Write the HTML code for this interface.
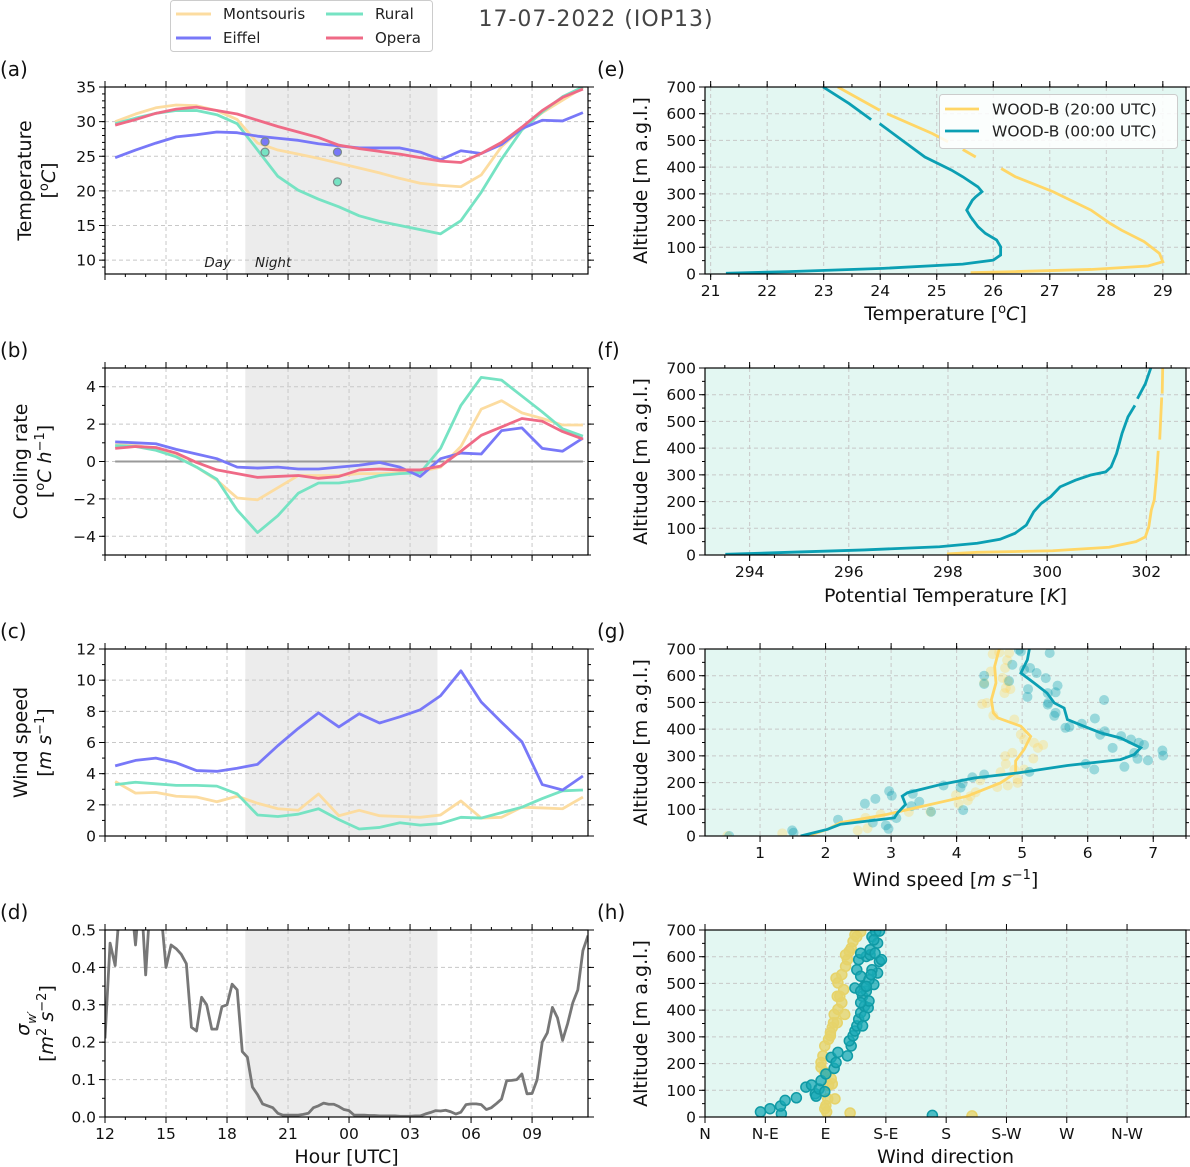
<!DOCTYPE html>
<html><head><meta charset="utf-8">
<style>
html,body{margin:0;padding:0;background:#fff;}
svg{display:block;font-family:"DejaVu Sans","Liberation Sans",sans-serif;}
</style></head>
<body>
<svg id="fig" width="1190" height="1167" viewBox="0 0 1190 1167" xmlns="http://www.w3.org/2000/svg">
  <text x="596" y="26" font-size="22" fill="#444" text-anchor="middle" letter-spacing="1">17-07-2022 (IOP13)</text>
  <g>
    <rect x="170.5" y="0.5" width="262" height="51" rx="3" fill="#fff" stroke="#ccc"/>
    <line x1="176" y1="14" x2="211" y2="14" stroke="#fcdca0" stroke-width="3"/>
    <text x="223" y="19" font-size="15" fill="#222">Montsouris</text>
    <line x1="176" y1="38" x2="211" y2="38" stroke="#7878f8" stroke-width="3"/>
    <text x="223" y="43" font-size="15" fill="#222">Eiffel</text>
    <line x1="326" y1="14" x2="363" y2="14" stroke="#76e3c3" stroke-width="3"/>
    <text x="375" y="19" font-size="15" fill="#222">Rural</text>
    <line x1="326" y1="38" x2="363" y2="38" stroke="#ef6a86" stroke-width="3"/>
    <text x="375" y="43" font-size="15" fill="#222">Opera</text>
  </g>
</svg>
<script>
// ---------- data: left panels (hourly, starting 12:30 UTC) ----------
const hourOffsets = [0.5,1.5,2.5,3.5,4.5,5.5,6.5,7.5,8.5,9.5,10.5,11.5,12.5,13.5,14.5,15.5,16.5,17.5,18.5,19.5,20.5,21.5,22.5,23.5];
const tempMontsouris = [30.0,31.1,32.0,32.4,32.3,31.6,30.3,26.9,25.9,25.3,24.7,24.0,23.3,22.6,21.8,21.1,20.8,20.6,22.3,26.4,29.0,31.3,33.1,34.9];
const tempRural = [29.7,30.5,31.2,31.6,31.6,31.0,29.7,25.9,22.1,20.1,18.8,17.7,16.4,15.6,15.0,14.4,13.8,15.7,19.8,24.6,28.8,31.4,33.6,35.0];
const tempEiffel = [24.8,25.9,26.9,27.8,28.1,28.5,28.4,27.9,27.6,27.3,26.8,26.5,26.2,26.2,26.2,25.6,24.5,25.8,25.4,26.7,29.0,30.2,30.1,31.3];
const tempOpera = [29.5,30.3,31.2,31.8,32.1,31.6,31.1,30.2,29.3,28.5,27.7,26.6,26.1,25.7,25.3,24.8,24.3,24.1,25.4,27.0,29.2,31.6,33.5,34.7];
const markerHours = [7.87,7.87,11.43,11.43];
const markerTemps = [27.1,25.6,25.6,21.3];
const markerStations = ["eiffel","rural","eiffel","rural"];
const coolMontsouris = [0.9,0.85,0.7,0.3,-0.3,-1.0,-1.95,-2.05,-1.4,-0.75,-0.75,-0.75,-0.65,-0.65,-0.6,-0.55,-0.3,0.8,2.8,3.25,2.6,2.3,1.95,1.95];
const coolRural = [0.85,0.8,0.6,0.25,-0.3,-0.95,-2.6,-3.8,-2.9,-1.7,-1.15,-1.15,-1.0,-0.75,-0.65,-0.6,0.7,3.0,4.5,4.35,3.5,2.65,1.75,1.35];
const coolEiffel = [1.05,1.0,0.95,0.65,0.4,0.15,-0.3,-0.35,-0.3,-0.4,-0.4,-0.3,-0.2,-0.05,-0.3,-0.8,0.15,0.45,0.4,1.65,1.8,0.7,0.55,1.25];
const coolOpera = [0.7,0.8,0.75,0.45,-0.05,-0.45,-0.65,-0.85,-0.8,-0.75,-0.9,-0.8,-0.45,-0.4,-0.45,-0.45,-0.25,0.55,1.4,1.85,2.3,2.15,1.6,1.2];
const windMontsouris = [3.5,2.75,2.8,2.55,2.5,2.2,2.55,2.1,1.75,1.65,2.7,1.3,1.65,1.3,1.25,1.2,1.35,2.25,1.15,1.2,1.85,1.8,1.75,2.5];
const windRural = [3.3,3.45,3.35,3.25,3.25,3.2,2.7,1.35,1.25,1.4,1.75,1.05,0.45,0.55,0.85,0.7,0.8,1.2,1.15,1.5,1.85,2.4,2.9,2.95];
const windEiffel = [4.5,4.85,5.0,4.7,4.2,4.15,4.35,4.6,5.8,6.9,7.9,7.0,7.85,7.25,7.65,8.1,9.0,10.6,8.6,7.3,6.05,3.3,2.95,3.85];
// sigma_w, 15-min steps from 12:00 UTC
const sigmaStep = 0.25;
const sigmaW = [0.21,0.465,0.405,0.58,0.6,0.6,0.46,0.62,0.38,0.6,0.6,0.55,
0.40,0.46,0.45,0.435,0.41,0.24,0.23,0.32,0.30,0.235,0.235,0.295,0.30,0.355,0.34,0.175,0.16,0.08,0.06,0.035,0.03,0.025,0.01,0.005,0.005,0.005,0.005,0.007,0.01,0.025,0.03,0.037,0.034,0.034,0.028,0.02,0.017,0.005,0.005,0.005,0.004,0.004,0.003,0.003,0.003,0.003,0.002,0.002,0.002,0.003,0.003,0.008,0.012,0.017,0.016,0.018,0.014,0.008,0.013,0.033,0.035,0.035,0.033,0.02,0.025,0.036,0.048,0.097,0.098,0.1,0.115,0.062,0.063,0.1,0.2,0.225,0.293,0.265,0.205,0.25,0.305,0.34,0.445,0.485];
const nightStart = 6.9, nightEnd = 16.35;
const hourTickLabels = ["12","15","18","21","00","03","06","09"];

// ---------- data: right panels (profiles) ----------
const tAlt00 = [700,638,578,null,563,500,438,389,364,326,308,289,276,239,214,177,152,127,102,71,52,37,21,9,2.5];
const tVal00 = [22.99,23.45,23.84,null,23.99,24.39,24.79,25.26,25.46,25.73,25.8,25.69,25.63,25.53,25.6,25.73,25.86,26.06,26.13,26.13,26.0,25.46,24.05,22.38,21.27];
const tAlt20 = [700,613,null,600,563,526,495,null,466,438,null,395,364,308,239,189,164,121,77,46,30,17,9,5];
const tVal20 = [23.25,23.99,null,24.12,24.52,24.92,25.2,null,25.46,25.69,null,26.14,26.39,27.06,27.73,28.07,28.27,28.67,28.94,29.0,28.74,27.73,26.39,25.6];
const thAlt00 = [700,641,585,null,560,517,455,380,330,311,299,280,255,218,193,162,112,81,59,44,31,19,10,2.5];
const thVal00 = [302.09,301.98,301.82,null,301.77,301.63,301.51,301.4,301.29,301.18,300.87,300.57,300.26,300.07,299.88,299.73,299.58,299.35,299.05,298.59,297.83,296.31,294.78,293.51];
const thAlt20 = [700,604,null,590,432,null,390,306,206,168,106,68,50,29,16,10,4];
const thVal20 = [302.33,302.32,null,302.31,302.27,null,302.24,302.21,302.16,302.1,302.05,301.98,301.79,301.25,300.11,298.59,297.98];
const wsAlt00 = [700,660,610,573,535,498,479,436,411,386,367,330,305,286,264,236,217,193,162,149,118,87,68,44,25,0];
const wsVal00 = [5.11,5.08,4.98,5.18,5.38,5.49,5.64,5.69,5.94,6.2,6.5,6.81,6.71,6.5,5.69,4.93,4.27,3.76,3.25,3.17,3.22,3.1,3.05,2.23,2.03,1.62];
const wsAlt20 = [700,635,573,510,461,442,411,373,324,281,236,199,149,93,81,50,25,0];
const wsVal20 = [4.65,4.58,4.6,4.53,4.56,4.63,4.98,5.13,5.03,4.9,4.9,4.67,4.16,3.15,2.94,2.23,2.03,1.72];
const wsObs00 = [0.53,1.49,1.51,2.19,2.72,2.92,2.96,3.08,2.6,2.76,2.97,3.01,3.31,3.43,3.61,3.33,3.8,4.09,4.06,4.1,4.24,4.42,5.11,5.97,6.1,6.56,6.71,6.76,6.92,7.14,7.15,6.38,6.66,6.78,6.86,6.19,6.26,6.51,5.66,5.72,5.91,6.11,5.49,5.51,5.39,5.4,6.25,5.08,5.09,5.39,5.54,5.51,5.36,5.22,5.03,5.12,4.85,4.8,5.42,4.95,4.98,4.42,4.42];
const wsObsAlt00 = [0,21,12,61,50,40,27,67,121,139,168,151,112,128,91,158,189,197,181,97,220,230,240,270,249,259,311,289,283,320,301,330,361,349,341,379,392,374,405,408,420,440,450,461,492,499,509,521,550,535,563,538,591,610,623,629,641,580,685,697,691,600,569];
const wsObs20 = [0.5,1.34,2.61,2.49,2.64,2.84,3.27,3.6,3.99,4.03,4.17,4.21,4.29,4.36,4.62,4.78,4.93,4.93,4.67,4.88,5.03,4.74,4.85,4.75,5.17,5.18,5.24,5.32,4.98,5.03,4.88,4.56,4.39,4.46,4.73,4.75,4.82,4.78,4.7,4.74,4.77,4.55,4.8,4.42,4.52,4.65];
const wsObsAlt20 = [0,10,68,21,29,81,90,91,153,121,133,149,164,208,183,189,199,212,239,249,249,299,311,270,290,349,330,341,380,361,436,451,494,498,535,554,550,579,592,629,658,681,685,573,616,687];
const wdObs00 = [41.4,48.5,57,56.4,59.8,68.2,75.3,79.5,82.3,82.9,85.1,89.4,86.6,90.2,94.2,96.4,97.8,99.2,106.3,109.1,107.7,110.5,111.9,113.3,114.7,116.2,119,117.6,120.4,119,113.3,114.7,120.4,123.2,124.6,127.4,130.2,128.8,130.2,131.7,116.2,128.8,124.6,169.7,111.9,116.2,119,121.8,117.6,122.4,116.2,126,122.4,124,120.4,123.2,126,126.9,116.2];
const wdAlt00 = [19,31,12,41,62,72,112,120,87,78,105,95,136,161,223,182,204,242,229,266,285,304,322,341,366,390,415,452,471,489,551,589,601,607,675,694,696,651,582,589,527,539,551,6,483,471,378,409,341,434,428,496,514,533,489,626,663,613,613];
const wdObs20 = [90.8,90.2,91.6,97,95,94.2,89.4,86.6,88,89.4,92.2,93.6,95,95.9,96.4,99.2,102.1,100.6,103.5,99.2,97.8,102.1,104.9,106.3,104.9,107.7,109.1,110.5,111.9,116.2,113.3,98.7,104.3,98.7,108.3,199.3,89.4,92.2,86.6,93.6];
const wdAlt20 = [19,43,68,68,124,143,167,204,229,266,291,316,335,353,384,403,428,452,477,502,520,533,564,589,607,620,632,657,682,694,675,452,384,353,15,4,31,118,186,304];
const dirTickLabels = ["N","N-E","E","S-E","S","S-W","W","N-W"];

// ---------- drawing ----------
const NS = "http://www.w3.org/2000/svg";
const svg = document.getElementById("fig");
function mk(tag, attrs, parent){
  const e = document.createElementNS(NS, tag);
  for (const k in attrs) e.setAttribute(k, attrs[k]);
  (parent||svg).appendChild(e);
  return e;
}
function scale(d0,d1,r0,r1){ return v => r0 + (v-d0)/(d1-d0)*(r1-r0); }

function axesFrame(p){
  const g = mk("g", {});
  
  
  p.g = g;
  p.sx = scale(p.xd[0], p.xd[1], p.x0, p.x1);
  p.sy = scale(p.yd[0], p.yd[1], p.y1, p.y0);
  const bg = mk("rect", {x:p.x0, y:p.y0, width:p.x1-p.x0, height:p.y1-p.y0, fill:p.bg||"#fff"}, g);
  
  
  if (p.night){
    const n = mk("rect", {x:p.sx(nightStart), y:p.y0, width:p.sx(nightEnd)-p.sx(nightStart), height:p.y1-p.y0, fill:"#ececec"}, g);
    
    
  }
  p.xt.forEach(v => {
    const l = mk("line", {x1:p.sx(v), x2:p.sx(v), y1:p.y0, y2:p.y1, stroke:"#c8c8c8", "stroke-width":1, "stroke-dasharray":"4,3"}, g);
    
    
  });
  p.yt.forEach(v => {
    const l = mk("line", {x1:p.x0, x2:p.x1, y1:p.sy(v), y2:p.sy(v), stroke:"#c8c8c8", "stroke-width":1, "stroke-dasharray":"4,3"}, g);
    
    
  });
  const clipId = "clip-" + p.name;
  const cp = mk("clipPath", {id:clipId}, g);
  mk("rect", {x:p.x0, y:p.y0, width:p.x1-p.x0, height:p.y1-p.y0}, cp);
  const plot = mk("g", {"clip-path":"url(#"+clipId+")"}, g);
  
  
  p.plot = plot;
  return p;
}
function axesDecor(p){
  const g = p.g;
  const fr = mk("rect", {x:p.x0, y:p.y0, width:p.x1-p.x0, height:p.y1-p.y0, fill:"none", stroke:"#000", "stroke-width":1.2}, g);
  
  
  const tk = (x1,y1,x2,y2) => {
    const t = mk("line", {x1:x1,y1:y1,x2:x2,y2:y2, stroke:"#000", "stroke-width":1}, g);
    
    
  };
  p.xt.forEach(v => { const x=p.sx(v); tk(x,p.y1,x,p.y1+6); tk(x,p.y0,x,p.y0-6); });
  (p.xm||[]).forEach(v => { const x=p.sx(v); tk(x,p.y1,x,p.y1+3); tk(x,p.y0,x,p.y0-3); });
  p.yt.forEach(v => { const y=p.sy(v); tk(p.x0-6,y,p.x0,y); tk(p.x1,y,p.x1+6,y); });
  (p.ym||[]).forEach(v => { const y=p.sy(v); tk(p.x0-3,y,p.x0,y); tk(p.x1,y,p.x1+3,y); });
  if (p.xl){
    p.xt.forEach((v,i) => {
      const t = mk("text", {x:p.sx(v), y:p.y1+22, "font-size":15.5, "text-anchor":"middle", fill:"#111"}, g);
      t.textContent = p.xl[i];
      
      
    });
  }
  p.yt.forEach((v,i) => {
    const t = mk("text", {x:p.x0-9, y:p.sy(v)+5.5, "font-size":15.5, "text-anchor":"end", fill:"#111"}, g);
    t.textContent = p.yl ? p.yl[i] : String(v);
    
    
  });
  const pl = mk("text", {x:p.lx, y:p.y0-11, "font-size":20, fill:"#111"}, g);
  pl.textContent = p.label;
  
  
}
function ylab(p, lines, x){
  const cy = (p.y0+p.y1)/2;
  lines.forEach((html,i) => {
    const xx = x + i*24;
    const t = mk("text", {x:xx, y:cy, "font-size":19, "text-anchor":"middle", fill:"#111", transform:"rotate(-90 "+xx+" "+cy+")"}, p.g);
    t.innerHTML = html;
    
    
  });
}
function xlab(p, html, y){
  const t = mk("text", {x:(p.x0+p.x1)/2, y:y, "font-size":19, "text-anchor":"middle", fill:"#111"}, p.g);
  t.innerHTML = html;
  
  
}
function pathXY(p, xs, ys){
  let d = "", pen = false;
  for (let i=0;i<xs.length;i++){
    if (xs[i]===null || ys[i]===null){ pen=false; continue; }
    d += (pen?"L":"M") + p.sx(xs[i]).toFixed(2) + "," + p.sy(ys[i]).toFixed(2);
    pen = true;
  }
  return d;
}
function range(a,b,s){ const r=[]; for(let v=a; v<=b+1e-9; v+=s) r.push(Math.round(v*1000)/1000); return r; }

const LX0=105, LX1=588, RX0=705, RX1=1186, H=187;
const tops=[87,368,649,930];
const hourTicks=[0,3,6,9,12,15,18,21];
const hourMinor=range(0,23,1);

const colors = {montsouris:"#fcdca0", rural:"#76e3c3", eiffel:"#7878f8", opera:"#ef6a86"};

// (a)
const pa = axesFrame({name:"panel-a-temperature", label:"(a)", lx:0, x0:LX0,x1:LX1,y0:tops[0],y1:tops[0]+H, xd:[0,23.75], yd:[8,35], xt:hourTicks, xm:hourMinor, yt:[10,15,20,25,30,35], ym:range(9,35,1), night:true});
[["montsouris",tempMontsouris],["rural",tempRural],["eiffel",tempEiffel],["opera",tempOpera]].forEach(s => {
  const l = mk("path", {d:pathXY(pa,hourOffsets,s[1]), fill:"none", stroke:colors[s[0]], "stroke-width":2.8, "stroke-linejoin":"round"}, pa.plot);
  
  
});
markerHours.forEach((h,i) => {
  const c = mk("circle", {cx:pa.sx(h), cy:pa.sy(markerTemps[i]), r:4, fill:colors[markerStations[i]], stroke:"#7a8a8a", "stroke-width":1.2}, pa.plot);
  
  
});
const tDay = mk("text", {x:231, y:267, "font-size":13.5, "font-style":"italic", "text-anchor":"end", fill:"#222"}, pa.g);
tDay.textContent = "Day";


const tNight = mk("text", {x:255, y:267, "font-size":13.5, "font-style":"italic", fill:"#222"}, pa.g);
tNight.textContent = "Night";


axesDecor(pa);
ylab(pa, ["Temperature", "[<tspan baseline-shift='super' font-size='13'>o</tspan><tspan font-style='italic'>C</tspan>]"], 31);

// (b)
const pb = axesFrame({name:"panel-b-cooling-rate", label:"(b)", lx:0, x0:LX0,x1:LX1,y0:tops[1],y1:tops[1]+H, xd:[0,23.75], yd:[-5,5], xt:hourTicks, xm:hourMinor, yt:[-4,-2,0,2,4], yl:["\u22124","\u22122","0","2","4"], ym:range(-5,5,1), night:true});
const zl = mk("line", {x1:pb.sx(0.5), x2:pb.sx(23.5), y1:pb.sy(0), y2:pb.sy(0), stroke:"#999", "stroke-width":2}, pb.plot);


[["montsouris",coolMontsouris],["rural",coolRural],["eiffel",coolEiffel],["opera",coolOpera]].forEach(s => {
  const l = mk("path", {d:pathXY(pb,hourOffsets,s[1]), fill:"none", stroke:colors[s[0]], "stroke-width":2.8, "stroke-linejoin":"round"}, pb.plot);
  
  
});
axesDecor(pb);
ylab(pb, ["Cooling rate", "[<tspan baseline-shift='super' font-size='13'>o</tspan><tspan font-style='italic'>C h</tspan><tspan baseline-shift='super' font-size='13'>\u22121</tspan>]"], 27);

// (c)
const pc = axesFrame({name:"panel-c-wind-speed", label:"(c)", lx:0, x0:LX0,x1:LX1,y0:tops[2],y1:tops[2]+H, xd:[0,23.75], yd:[0,12], xt:hourTicks, xm:hourMinor, yt:[0,2,4,6,8,10,12], ym:range(0,12,1), night:true});
[["montsouris",windMontsouris],["rural",windRural],["eiffel",windEiffel]].forEach(s => {
  const l = mk("path", {d:pathXY(pc,hourOffsets,s[1]), fill:"none", stroke:colors[s[0]], "stroke-width":2.8, "stroke-linejoin":"round"}, pc.plot);
  
  
});
axesDecor(pc);
ylab(pc, ["Wind speed", "[<tspan font-style='italic'>m s</tspan><tspan baseline-shift='super' font-size='13'>\u22121</tspan>]"], 27);

// (d)
const pd = axesFrame({name:"panel-d-sigma-w", label:"(d)", lx:0, x0:LX0,x1:LX1,y0:tops[3],y1:tops[3]+H, xd:[0,23.75], yd:[0,0.5], xt:hourTicks, xm:hourMinor, xl:hourTickLabels, yt:[0,0.1,0.2,0.3,0.4,0.5], yl:["0.0","0.1","0.2","0.3","0.4","0.5"], ym:range(0,0.5,0.05), night:true});
const sigmaHours = sigmaW.map((v,i) => i*sigmaStep);
const sl = mk("path", {d:pathXY(pd,sigmaHours,sigmaW), fill:"none", stroke:"#777", "stroke-width":2.8, "stroke-linejoin":"round"}, pd.plot);


axesDecor(pd);
ylab(pd, ["<tspan font-style='italic'>\u03C3</tspan><tspan font-size='12' baseline-shift='sub' font-style='italic'>w\u2032</tspan>", "[<tspan font-style='italic'>m</tspan><tspan baseline-shift='super' font-size='13'>2</tspan> <tspan font-style='italic'>s</tspan><tspan baseline-shift='super' font-size='13'>\u22122</tspan>]"], 29);
xlab(pd, "Hour [UTC]", 1163);

// right panels
const BG = "#e3f7f2", YEL = "#ffd666", TEAL = "#0b9fb3";
const altTicks = [0,100,200,300,400,500,600,700];
const altMinor = range(0,700,50);

// (e)
const pe = axesFrame({name:"panel-e-temperature-profile", label:"(e)", lx:597, x0:RX0,x1:RX1,y0:tops[0],y1:tops[0]+H, xd:[20.9,29.41], yd:[0,700], xt:[21,22,23,24,25,26,27,28,29], xl:["21","22","23","24","25","26","27","28","29"], xm:range(21,29,0.5), yt:altTicks, ym:altMinor, bg:BG});
const e20 = mk("path", {d:pathXY(pe,tVal20,tAlt20), fill:"none", stroke:YEL, "stroke-width":2.8}, pe.plot);


const e00 = mk("path", {d:pathXY(pe,tVal00,tAlt00), fill:"none", stroke:TEAL, "stroke-width":2.8}, pe.plot);


const lg = mk("g", {}, pe.g);


const lgb = mk("rect", {x:939.5, y:94.5, width:238, height:54, rx:3, fill:"#fff", "fill-opacity":0.85, stroke:"#ccc"}, lg);


[[YEL,"WOOD-B (20:00 UTC)",109],[TEAL,"WOOD-B (00:00 UTC)",131]].forEach(r => {
  const ln = mk("line", {x1:945, x2:979, y1:r[2], y2:r[2], stroke:r[0], "stroke-width":2.8}, lg);
  
  
  const tx = mk("text", {x:992, y:r[2]+5.5, "font-size":15.5, fill:"#222"}, lg);
  tx.textContent = r[1];
  
  
});
axesDecor(pe);
ylab(pe, ["Altitude [m a.g.l.]"], 647);
xlab(pe, "Temperature [<tspan baseline-shift='super' font-size='13'>o</tspan><tspan font-style='italic'>C</tspan>]", 320);

// (f)
const pf = axesFrame({name:"panel-f-potential-temperature", label:"(f)", lx:597, x0:RX0,x1:RX1,y0:tops[1],y1:tops[1]+H, xd:[293.1,302.8], yd:[0,700], xt:[294,296,298,300,302], xl:["294","296","298","300","302"], xm:range(293.5,302.5,0.5), yt:altTicks, ym:altMinor, bg:BG});
const f20 = mk("path", {d:pathXY(pf,thVal20,thAlt20), fill:"none", stroke:YEL, "stroke-width":2.8}, pf.plot);


const f00 = mk("path", {d:pathXY(pf,thVal00,thAlt00), fill:"none", stroke:TEAL, "stroke-width":2.8}, pf.plot);


axesDecor(pf);
ylab(pf, ["Altitude [m a.g.l.]"], 647);
xlab(pf, "Potential Temperature [<tspan font-style='italic'>K</tspan>]", 602);

// (g)
const pg = axesFrame({name:"panel-g-wind-speed-profile", label:"(g)", lx:597, x0:RX0,x1:RX1,y0:tops[2],y1:tops[2]+H, xd:[0.16,7.5], yd:[0,700], xt:[1,2,3,4,5,6,7], xl:["1","2","3","4","5","6","7"], xm:range(0.5,7.5,0.5), yt:altTicks, ym:altMinor, bg:BG});
wsObs20.forEach((v,i) => {
  const c = mk("circle", {cx:pg.sx(v), cy:pg.sy(wsObsAlt20[i]), r:5, fill:YEL, "fill-opacity":0.35}, pg.plot);
  
  
});
wsObs00.forEach((v,i) => {
  const c = mk("circle", {cx:pg.sx(v), cy:pg.sy(wsObsAlt00[i]), r:5, fill:TEAL, "fill-opacity":0.35}, pg.plot);
  
  
});
const g20 = mk("path", {d:pathXY(pg,wsVal20,wsAlt20), fill:"none", stroke:YEL, "stroke-width":2.8}, pg.plot);


const g00 = mk("path", {d:pathXY(pg,wsVal00,wsAlt00), fill:"none", stroke:TEAL, "stroke-width":2.8}, pg.plot);


axesDecor(pg);
ylab(pg, ["Altitude [m a.g.l.]"], 647);
xlab(pg, "Wind speed [<tspan font-style='italic'>m s</tspan><tspan baseline-shift='super' font-size='13'>\u22121</tspan>]", 886);

// (h)
const ph = axesFrame({name:"panel-h-wind-direction", label:"(h)", lx:597, x0:RX0,x1:RX1,y0:tops[3],y1:tops[3]+H, xd:[0,359], yd:[0,700], xt:[0,45,90,135,180,225,270,315], xl:dirTickLabels, yt:altTicks, ym:altMinor, bg:BG});
wdObs20.forEach((v,i) => {
  const c = mk("circle", {cx:ph.sx(v), cy:ph.sy(wdAlt20[i]), r:5, fill:"#e6d36a", "fill-opacity":0.8, stroke:"#e6d36a", "stroke-width":1.5}, ph.plot);
  
  
});
wdObs00.forEach((v,i) => {
  const c = mk("circle", {cx:ph.sx(v), cy:ph.sy(wdAlt00[i]), r:5, fill:"#1aaab5", "fill-opacity":0.75, stroke:"#0f9aa5", "stroke-width":1.5}, ph.plot);
  
  
});
axesDecor(ph);
ylab(ph, ["Altitude [m a.g.l.]"], 647);
xlab(ph, "Wind direction", 1163);
</script>
</body></html>
